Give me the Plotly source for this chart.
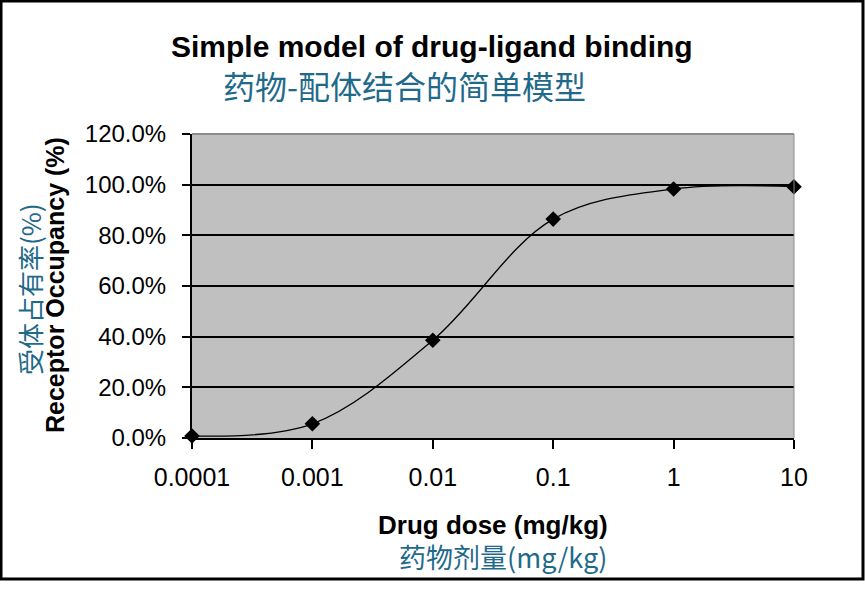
import plotly.graph_objects as go

# ---- data ----
doses = [0.0001, 0.001, 0.01, 0.1, 1, 10]
occupancy = [0.008, 0.056, 0.386, 0.864, 0.983, 0.992]
x_tick_vals = [0.0001, 0.001, 0.01, 0.1, 1, 10]
x_tick_text = ["0.0001", "0.001", "0.01", "0.1", "1", "10"]
y_tick_vals = [0, 0.2, 0.4, 0.6, 0.8, 1.0, 1.2]

title_en = "Simple model of drug-ligand binding"
title_zh = "药物-配体结合的简单模型"
xtitle_en = "Drug dose (mg/kg)"
xtitle_zh = "药物剂量(mg/kg)"
ytitle_en = "Receptor Occupancy (%)"
ytitle_zh = "受体占有率(%)"

W, H = 865, 589
L, R, T, B = 192, 794, 134, 438
TEAL = "#1F6A8A"
LAT = "Liberation Sans, Arial, sans-serif"
CJK = "Noto Sans CJK SC, sans-serif"


def px(xp):
    return (xp - L) / (R - L)


def py(yp):
    return (B - yp) / (B - T)


fig = go.Figure()
fig.add_trace(go.Scatter(
    x=doses, y=occupancy, mode="lines+markers",
    line=dict(color="black", width=1.3, shape="spline", smoothing=1),
    marker=dict(symbol="diamond", size=12, color="black"),
    cliponaxis=False, showlegend=False,
))

fig.update_layout(
    width=W, height=H,
    margin=dict(l=L, r=W - R, t=T, b=H - B, pad=0),
    paper_bgcolor="white", plot_bgcolor="#C0C0C0",
    font=dict(family=LAT, color="black"),
    xaxis=dict(
        type="log", range=[-4, 1],
        tickvals=x_tick_vals, ticktext=x_tick_text,
        ticks="outside", ticklen=9, tickwidth=1.5, tickcolor="black",
        showline=True, linecolor="black", linewidth=2,
        showgrid=False, zeroline=False,
        tickfont=dict(family=LAT, size=25, color="black"),
        ticklabelstandoff=7,
    ),
    yaxis=dict(
        range=[0, 1.2], tickvals=y_tick_vals, tickformat=".1%",
        ticks="outside", ticklen=8, tickwidth=1.5, tickcolor="black",
        showline=True, linecolor="black", linewidth=2,
        showgrid=True, gridcolor="black", gridwidth=2, zeroline=False,
        tickfont=dict(family=LAT, size=24, color="black"),
        ticklabelstandoff=11,
    ),
)

# plot area top/right edges (thin gray) and outer frame
fig.add_shape(type="line", xref="x domain", yref="y domain", x0=0, x1=1, y0=1, y1=1,
              line=dict(color="#8C8C8C", width=2), layer="above")
fig.add_shape(type="line", xref="x domain", yref="y domain", x0=1, x1=1, y0=0, y1=1,
              line=dict(color="#8C8C8C", width=1), layer="above")
fig.add_shape(type="rect", xref="paper", yref="paper",
              x0=px(1), x1=px(863), y0=py(1), y1=py(579),
              line=dict(color="black", width=3), layer="below")

ann = [
    dict(text="<b>" + title_en + "</b>", x=px(432), y=py(46), size=30, fam=LAT, col="black", ang=0),
    dict(text=title_zh, x=px(404), y=py(85), size=32, fam=CJK, col=TEAL, ang=0),
    dict(text="<b>" + xtitle_en + "</b>", x=px(493), y=py(525), size=26, fam=LAT, col="black", ang=0),
    dict(text=xtitle_zh, x=px(503), y=py(556), size=27, fam=CJK, col=TEAL, ang=0),
    dict(text="<b>" + ytitle_en + "</b>", x=px(55), y=py(285), size=25, fam=LAT, col="black", ang=-90),
    dict(text=ytitle_zh, x=px(29), y=py(289), size=26, fam=CJK, col=TEAL, ang=-90),
]
for a in ann:
    fig.add_annotation(text=a["text"], x=a["x"], y=a["y"], xref="paper", yref="paper",
                       xanchor="center", yanchor="middle", showarrow=False,
                       textangle=a["ang"], font=dict(family=a["fam"], size=a["size"], color=a["col"]))

fig.write_html("out.html")
